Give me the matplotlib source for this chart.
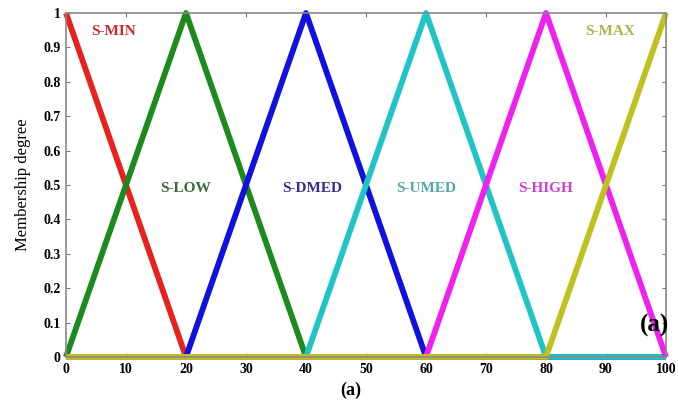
import matplotlib
matplotlib.use("Agg")
import matplotlib.pyplot as plt

x_pts = [0, 20, 40, 60, 80, 100]
names = ["S-MIN", "S-LOW", "S-DMED", "S-UMED", "S-HIGH", "S-MAX"]
mf_values = {
    "S-MIN":  [1, 0, 0, 0, 0, 0],
    "S-LOW":  [0, 1, 0, 0, 0, 0],
    "S-DMED": [0, 0, 1, 0, 0, 0],
    "S-UMED": [0, 0, 0, 1, 0, 0],
    "S-HIGH": [0, 0, 0, 0, 1, 0],
    "S-MAX":  [0, 0, 0, 0, 0, 1],
}
line_colors = ["#e8201e", "#1e8a1e", "#1010e0", "#20c4c4", "#f020f0", "#c0c020"]
text_colors = ["#d02828", "#3a6a3a", "#303090", "#50a8a8", "#d040d0", "#b0b050"]
label_pos = [(8, 0.945), (20, 0.49), (41, 0.49), (60, 0.49), (80, 0.49), (90.7, 0.945)]
xticks = [0, 10, 20, 30, 40, 50, 60, 70, 80, 90, 100]
yticks = [0, 0.1, 0.2, 0.3, 0.4, 0.5, 0.6, 0.7, 0.8, 0.9, 1]
ytick_labels = ["0", "0.1", "0.2", "0.3", "0.4", "0.5", "0.6", "0.7", "0.8", "0.9", "1"]

plt.rcParams['font.family'] = ['Liberation Serif', 'DejaVu Serif']

fig = plt.figure(figsize=(6.78, 4.07), dpi=100)
ax = fig.add_axes([0.0973, 0.1229, 0.8850, 0.8451])

for name, c in zip(names, line_colors):
    ax.plot(x_pts, mf_values[name], color=c, lw=4.2, solid_capstyle='butt', clip_on=False)

for name, c, (px, py) in zip(names, text_colors, label_pos):
    ax.text(px, py, name, color=c, fontsize=11, fontweight='bold', ha='center', va='center')

ax.set_xlim(0, 100)
ax.set_ylim(0, 1)
ax.set_xticks(xticks)
ax.set_yticks(yticks)
ax.set_yticklabels(ytick_labels)
ax.tick_params(direction='in', top=True, right=True, length=3, labelsize=10, pad=4, color='#777777')
for lab in ax.get_xticklabels() + ax.get_yticklabels():
    lab.set_fontweight('bold')
for s in ax.spines.values():
    s.set_color('#888888')
    s.set_linewidth(1.2)

ax.set_ylabel("Membership degree", fontsize=12, labelpad=9)
fig.text(0.517, 0.04, "(a)", fontsize=13, fontweight='bold', ha='center', va='center')
fig.text(0.965, 0.2, "(a)", fontsize=18, fontweight='bold', ha='center', va='center')

fig.savefig("out.png", dpi=100)
